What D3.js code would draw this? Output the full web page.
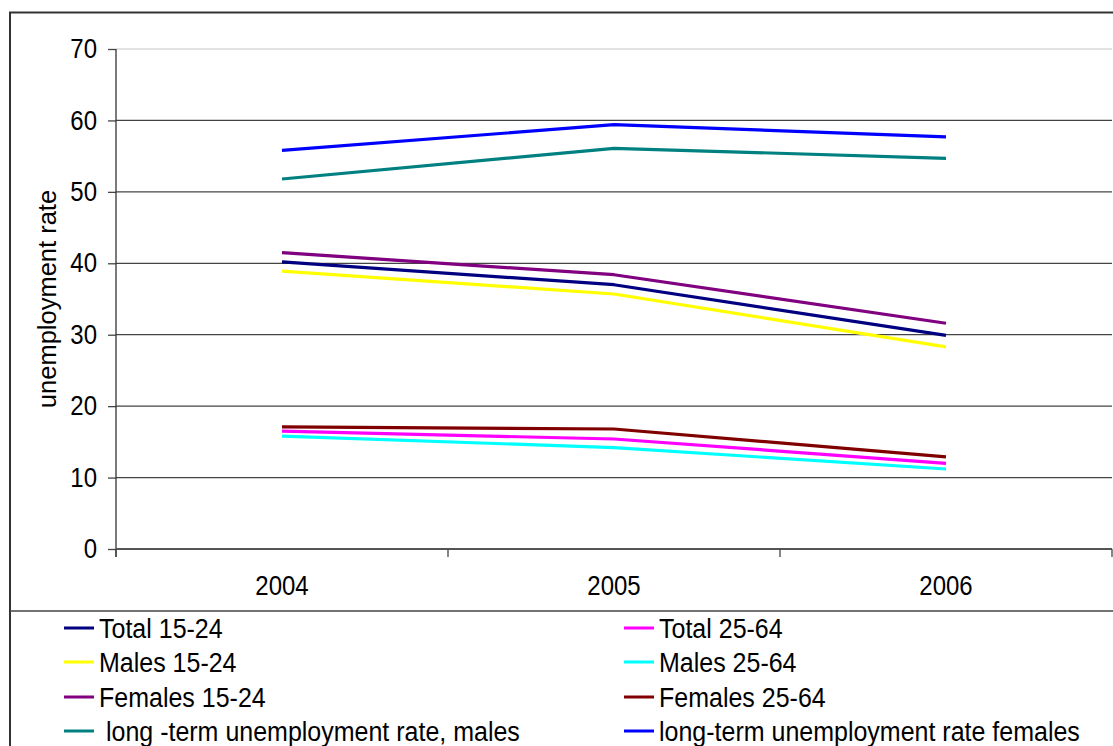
<!DOCTYPE html>
<html>
<head>
<meta charset="utf-8">
<script src="https://cdn.jsdelivr.net/npm/d3@7"></script>
<style>
  html, body { margin: 0; padding: 0; background: #fff; }
  svg { display: block; }
  text { font-family: "Liberation Sans", Arial, sans-serif; fill: #000; white-space: pre; }
</style>
</head>
<body>
<svg id="chart" width="1113" height="746"></svg>
<script>
const years = ["2004", "2005", "2006"];
const yTicks = [0, 10, 20, 30, 40, 50, 60, 70];

const seriesNames = [
  "Total 15-24", "Total 25-64",
  "Males 15-24", "Males 25-64",
  "Females 15-24", "Females 25-64",
  " long -term unemployment rate, males", "long-term unemployment rate females"
];
const seriesColors = [
  "#000080", "#FF00FF",
  "#FFFF00", "#00FFFF",
  "#800080", "#800000",
  "#008080", "#0000FF"
];
const total1524 = [40.2, 37.0, 29.9];
const total2564 = [16.5, 15.4, 12.0];
const males1524 = [38.9, 35.7, 28.3];
const males2564 = [15.8, 14.2, 11.2];
const females1524 = [41.5, 38.4, 31.6];
const females2564 = [17.1, 16.8, 12.9];
const ltMales = [51.8, 56.1, 54.7];
const ltFemales = [55.8, 59.4, 57.7];
const seriesValues = [total1524, total2564, males1524, males2564, females1524, females2564, ltMales, ltFemales];

const drawOrder = [6, 7, 2, 0, 4, 3, 1, 5];
const SY = 1.12; // vertical text stretch seen in the reference

const svg = d3.select("#chart");

const x = d3.scaleBand().domain(years).range([116, 1112]).paddingInner(0).paddingOuter(0);
const y = d3.scaleLinear().domain([0, 70]).range([549, 49]);

// outer frame
svg.append("rect").attr("x", 10).attr("y", 12.5).attr("width", 1120).attr("height", 760)
  .attr("fill", "#fff").attr("stroke", "#333").attr("stroke-width", 2);

// gridlines
svg.append("g").selectAll("line").data(yTicks.filter(d => d > 0)).join("line")
  .attr("x1", 116).attr("x2", 1112)
  .attr("y1", d => y(d)).attr("y2", d => y(d))
  .attr("stroke", d => d === 70 ? "#d9d9d9" : "#444")
  .attr("stroke-width", 1.3);

// y axis
const yAxis = d3.axisLeft(y).tickValues(yTicks).tickSize(8).tickPadding(11);
const gy = svg.append("g").attr("transform", "translate(116,0)").call(yAxis);
gy.select(".domain").remove();
gy.selectAll(".tick line").attr("stroke", "#444").attr("stroke-width", 1.3);
gy.selectAll(".tick text").attr("font-size", 24).attr("font-family", "Liberation Sans, Arial, sans-serif")
  .attr("fill", "#000").attr("transform", `scale(1,${SY})`);
svg.append("line").attr("x1", 116).attr("x2", 116).attr("y1", 49).attr("y2", 557)
  .attr("stroke", "#333").attr("stroke-width", 1.3);

// x axis
svg.append("line").attr("x1", 116).attr("x2", 1112).attr("y1", 549).attr("y2", 549)
  .attr("stroke", "#555").attr("stroke-width", 2);
const xBounds = years.map(d => x(d)).concat([x(years[years.length - 1]) + x.bandwidth()]);
svg.append("g").selectAll("line").data(xBounds).join("line")
  .attr("x1", d => d).attr("x2", d => d).attr("y1", 549).attr("y2", 557)
  .attr("stroke", "#444").attr("stroke-width", 1.3);
svg.append("g").selectAll("text").data(years).join("text")
  .attr("transform", d => `translate(${x(d) + x.bandwidth() / 2},595) scale(1,${SY})`)
  .attr("text-anchor", "middle").attr("font-size", 24).text(d => d);

// y title
svg.append("text").attr("transform", "translate(56,299) rotate(-90)")
  .attr("text-anchor", "middle").attr("font-size", 25.5).text("unemployment rate");

// lines
const line = d3.line().x((d, i) => x(years[i]) + x.bandwidth() / 2).y(d => y(d));
svg.append("g").selectAll("path").data(drawOrder).join("path")
  .attr("d", i => line(seriesValues[i]))
  .attr("fill", "none").attr("stroke", i => seriesColors[i])
  .attr("stroke-width", 3.2).attr("stroke-linejoin", "round");

// legend
svg.append("line").attr("x1", 10).attr("x2", 1113).attr("y1", 611).attr("y2", 611)
  .attr("stroke", "#444").attr("stroke-width", 1.5);
const rowY = [628, 662, 697, 731];
const colX = [64, 624];
const leg = svg.append("g").selectAll("g").data(seriesNames).join("g")
  .attr("transform", (d, i) => `translate(${colX[i % 2]},${rowY[Math.floor(i / 2)]})`);
leg.append("line").attr("x1", 0).attr("x2", 30).attr("y1", 0).attr("y2", 0)
  .attr("stroke", (d, i) => seriesColors[i]).attr("stroke-width", 3);
leg.append("text").attr("transform", `translate(35,0) scale(1,${SY})`).attr("dy", "0.35em")
  .attr("font-size", 25).text(d => d);
</script>
</body>
</html>
